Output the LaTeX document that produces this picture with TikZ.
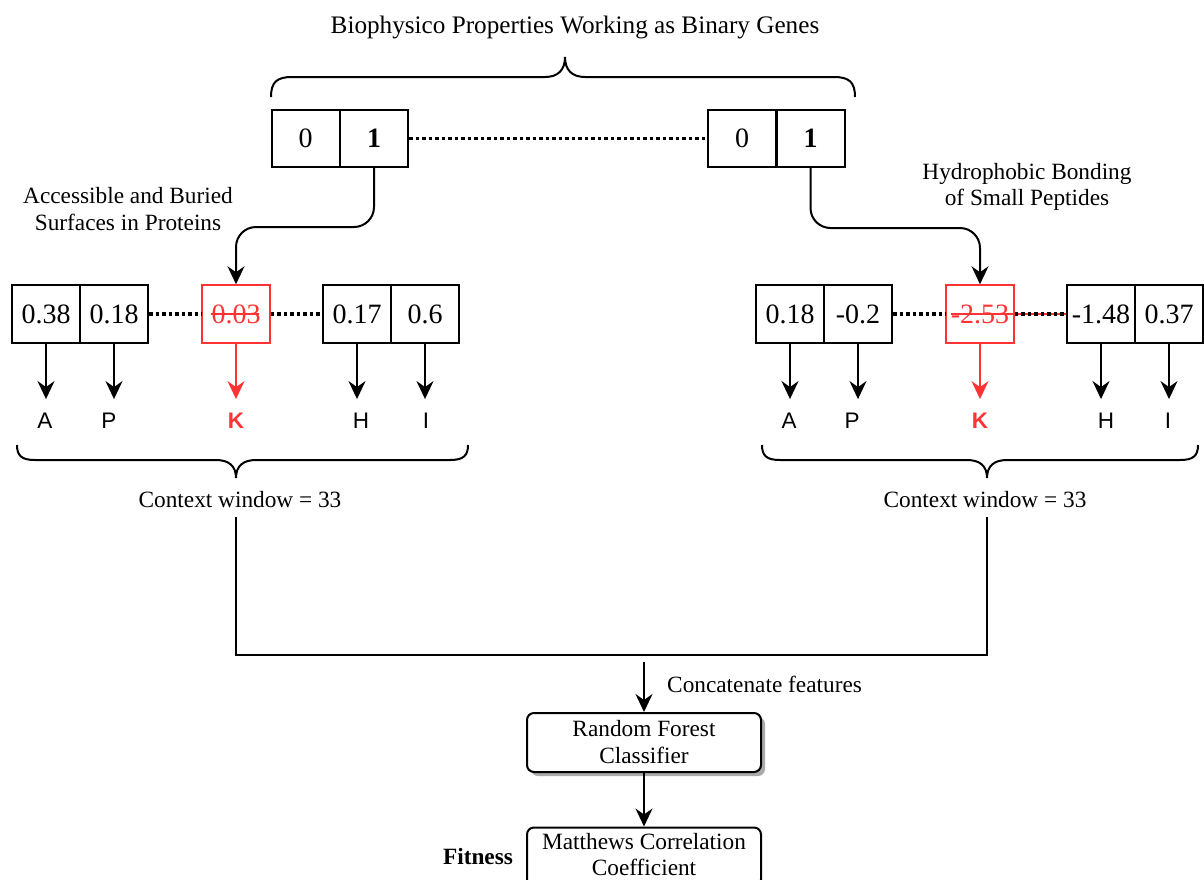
\documentclass[tikz,border=0pt]{standalone}
\usepackage{fontspec}
\setmainfont{Liberation Serif}
\newfontfamily\lettersf{Liberation Sans}
\usetikzlibrary{arrows.meta,shadows,calc}
\definecolor{hot}{RGB}{255,51,51}
\definecolor{shade}{RGB}{170,170,170}
\begin{document}
\begin{tikzpicture}[x=1pt,y=-1pt,
  line/.style={line width=2pt},
  arr/.style={line width=2pt,-{Stealth[length=18pt,width=17pt,inset=6pt]}},
  gene/.style={draw,line width=2pt,minimum width=68pt,minimum height=57pt,inner sep=0pt,
    font=\fontsize{28}{32}\selectfont},
  val/.style={draw,line width=2pt,minimum width=68pt,minimum height=58pt,inner sep=0pt,
    font=\fontsize{28}{32}\selectfont},
  hotval/.style={val,draw=hot,line width=1.5pt,text=hot},
  aa/.style={inner sep=0pt,font=\lettersf\fontsize{22.5}{26}\selectfont},
  lbl/.style={inner sep=0pt,align=center,font=\fontsize{23.3}{26.5}\selectfont},
  dots/.style={line width=3.5pt,dash pattern=on 3.5pt off 3pt},
  brace/.style={line width=2pt},
  stepbox/.style={draw,line width=2pt,rounded corners=7pt,minimum width=234pt,
    minimum height=59pt,inner sep=0pt,align=center,fill=white,
    font=\fontsize{23.3}{27}\selectfont}]
\clip (0,0) rectangle (1204,879);
\fill[white] (0,0) rectangle (1204,879);

% title and top brace
\node[lbl,font=\fontsize{25.2}{30}\selectfont] (title) at (575,27) {Biophysico Properties Working as Binary Genes};
\draw[brace] (271,97) .. controls (271,82) and (277,77) .. (292,77) -- (545,77)
  .. controls (558,77) and (565,70) .. (565,57)
  .. controls (565,70) and (572,77) .. (585,77) -- (834,77)
  .. controls (849,77) and (855,82) .. (855,97);

% binary genes
\node[gene] (g1a) at (305.5,138.5) {0};
\node[gene] (g1b) at (374,138.5) {\textbf{1}};
\node[gene] (g2a) at (742,138.5) {0};
\node[gene] (g2b) at (810.5,138.5) {\textbf{1}};
\draw[dots] (g1b.east) -- (g2a.west);

% property labels
\node[lbl] (accL) at (128,209) {Accessible and Buried\\Surfaces in Proteins};
\node[lbl] (hydR) at (1027,187) {Hydrophobic Bonding\\of Small Peptides};

% left property values
\node[val] (a1) at (46,314) {0.38};
\node[val] (a2) at (114,314) {0.18};
\node[hotval] (ak) at (236,314) {0.03};
\node[val] (a3) at (357,314) {0.17};
\node[val] (a4) at (425,314) {0.6};
\draw[hot,line width=1.5pt] ([xshift=-25pt]ak.center) -- ([xshift=23pt]ak.center);
\draw[dots] (a2.east) -- (ak.west);
\draw[dots] (ak.east) -- (a3.west);

% right property values
\node[val] (b1) at (790,314) {0.18};
\node[val] (b2) at (858,314) {-0.2};
\node[hotval] (bk) at (980,314) {-2.53};
\node[val] (b3) at (1101,314) {-1.48};
\node[val] (b4) at (1169,314) {0.37};
\draw[hot,line width=1.5pt] ([xshift=-29pt]bk.center) -- (b3.west);
\draw[dots] (b2.east) -- (bk.west);
\draw[dots] (bk.east) -- (b3.west);

% gene to property connectors
\draw[arr,rounded corners=20pt] (g1b.south) -- ++(0,59) -| (ak.north);
\draw[arr,rounded corners=20pt] (g2b.south) -- ++(0,60) -| (bk.north);

% residues
\node[aa] (lA) at (45,421) {A};
\node[aa] (lP) at (109,421) {P};
\node[aa,text=hot] (lK) at (236,421) {\bfseries K};
\node[aa] (lH) at (361,421) {H};
\node[aa] (lI) at (426,421) {I};
\node[aa] (rA) at (789,421) {A};
\node[aa] (rP) at (852,421) {P};
\node[aa,text=hot] (rK) at (980,421) {\bfseries K};
\node[aa] (rH) at (1106,421) {H};
\node[aa] (rI) at (1168,421) {I};
\foreach \v/\r in {a1/lA,a2/lP,a3/lH,a4/lI,b1/rA,b2/rP,b3/rH,b4/rI}
  \draw[arr] (\v.south) -- ($(\v.south |- \r.north)+(0,-14)$);
\draw[arr,hot,line width=1.5pt] (ak.south) -- ($(lK.north)+(0,-14)$);
\draw[arr,hot,line width=1.5pt] (bk.south) -- ($(rK.north)+(0,-14)$);

% context window braces
\draw[brace] (17,445) .. controls (17,456) and (22,460) .. (35,460) -- (216,460)
  .. controls (229,460) and (236,466) .. (236,478)
  .. controls (236,466) and (243,460) .. (256,460) -- (450,460)
  .. controls (463,460) and (468,456) .. (468,445);
\draw[brace] (762,445) .. controls (762,456) and (767,460) .. (780,460) -- (967,460)
  .. controls (980,460) and (987,466) .. (987,478)
  .. controls (987,466) and (994,460) .. (1007,460) -- (1180,460)
  .. controls (1193,460) and (1198,456) .. (1198,445);
\node[lbl] (ctxL) at (240,500) {Context window = 33};
\node[lbl] (ctxR) at (985,500) {Context window = 33};

% feature concatenation
\coordinate (join) at (644,655);
\coordinate (cat) at (644,662);
\draw[line] ([xshift=-4pt,yshift=-9pt]ctxL.south) |- (join) -| ([xshift=2pt,yshift=-9pt]ctxR.south);
\node[stepbox,drop shadow={shadow xshift=4pt,shadow yshift=-4pt,fill=shade,opacity=1}]
  (rf) at (644,742.5) {Random Forest\\Classifier};
\draw[arr] (cat) -- (rf.north);
\node[lbl,anchor=west] (catlbl) at (667,684) {Concatenate features};
\node[stepbox] (mcc) at (644,857) {\raisebox{2pt}{\begin{tabular}{@{}c@{}}Matthews Correlation\\[-1.5pt]Coefficient\end{tabular}}};
\draw[arr] (rf.south) -- (mcc.north);
\node[lbl] (fit) at (478,857) {\textbf{Fitness}};
\end{tikzpicture}
\end{document}
